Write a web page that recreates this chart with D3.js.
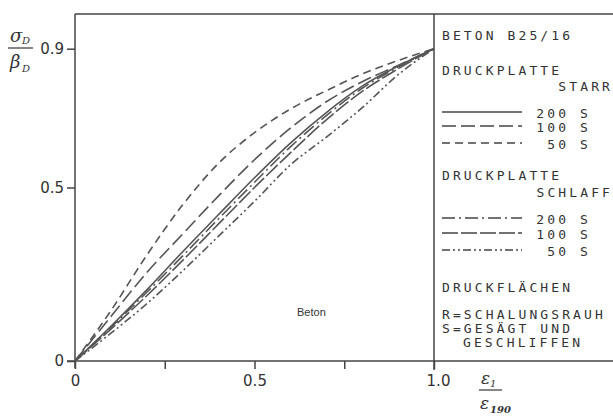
<!DOCTYPE html>
<html>
<head>
<meta charset="utf-8">
<script src="https://cdn.jsdelivr.net/npm/d3@7"></script>
<style>
  body { margin: 0; background: #fff; }
  text { fill: #333; }
</style>
</head>
<body>
<script>
// strain ratio eps1/eps190
const xs = [0, 0.1, 0.2, 0.3, 0.4, 0.5, 0.6, 0.7, 0.8, 0.9, 1.0];
// stress ratio sigmaD/betaD
const starr50  = [0, 0.145, 0.305, 0.45, 0.57, 0.658, 0.726, 0.779, 0.827, 0.866, 0.9];
const starr100 = [0, 0.128, 0.255, 0.366, 0.476, 0.58, 0.671, 0.747, 0.805, 0.852, 0.9];
const starr200 = [0, 0.1, 0.205, 0.315, 0.422, 0.528, 0.628, 0.716, 0.792, 0.85, 0.9];
const schlaff200 = [0, 0.097, 0.198, 0.303, 0.41, 0.515, 0.617, 0.707, 0.786, 0.847, 0.9];
const schlaff100 = [0, 0.092, 0.188, 0.29, 0.395, 0.5, 0.6, 0.695, 0.777, 0.842, 0.9];
const schlaff50  = [0, 0.08, 0.165, 0.26, 0.36, 0.46, 0.565, 0.645, 0.73, 0.825, 0.9];

const yTicks = [0, 0.5, 0.9];
const xTicks = [0, 0.25, 0.5, 0.75, 1.0];
const xLabels = {0: "0", 0.5: "0.5", 1.0: "1.0"};

const series = [
  {vals: starr200, dash: null, label: "200 S", ly: 112},
  {vals: starr100, dash: "14,5", label: "100 S", ly: 126},
  {vals: starr50, dash: "8,5", label: "50 S", ly: 143},
  {vals: schlaff200, dash: "13,4,2,4", label: "200 S", ly: 218},
  {vals: schlaff100, dash: "16,3", label: "100 S", ly: 233},
  {vals: schlaff50, dash: "8,3,2,3,2,3", label: "50 S", ly: 250}
];

const svg = d3.select("body").append("svg")
  .attr("width", 613)
  .attr("height", 417)
  .style("font-family", "'DejaVu Sans Mono', monospace");

const x = d3.scaleLinear().domain([0, 1]).range([75, 434]);
const y = d3.scaleLinear().domain([0, 1]).range([361, 14]);

const ink = "#444";

// frame
svg.append("line").attr("x1", 75).attr("y1", 14).attr("x2", 613).attr("y2", 14)
  .attr("stroke", ink).attr("stroke-width", 1.5);
svg.append("line").attr("x1", 75).attr("y1", 14).attr("x2", 75).attr("y2", 368)
  .attr("stroke", ink).attr("stroke-width", 1.5);
svg.append("line").attr("x1", 434).attr("y1", 14).attr("x2", 434).attr("y2", 370)
  .attr("stroke", ink).attr("stroke-width", 1.5);

// axes
const yAxis = svg.append("g").attr("transform", "translate(75,0)")
  .call(d3.axisLeft(y).tickValues(yTicks).tickSize(8).tickPadding(3)
    .tickFormat(d => d === 0 ? "0" : d3.format(".1f")(d)));
yAxis.select(".domain").remove();
yAxis.selectAll("line").attr("stroke", ink).attr("stroke-width", 1.5);
yAxis.selectAll("text").attr("font-size", 15).attr("fill", "#333")
  .style("font-family", "'DejaVu Sans', sans-serif");

const xAxis = svg.append("g").attr("transform", "translate(0,361)")
  .call(d3.axisBottom(x).tickValues(xTicks).tickSize(8).tickPadding(6)
    .tickFormat(d => xLabels[d] || ""));
xAxis.select(".domain").remove();
xAxis.selectAll("line").attr("stroke", ink).attr("stroke-width", 1.5);
xAxis.selectAll("text").attr("font-size", 15).attr("fill", "#333")
  .style("font-family", "'DejaVu Sans', sans-serif");
xAxis.selectAll(".tick").filter(d => d === 1).select("text").attr("dx", 4);

svg.append("line").attr("x1", 67).attr("y1", 361).attr("x2", 613).attr("y2", 361)
  .attr("stroke", ink).attr("stroke-width", 1.5);

// curves
const line = d3.line()
  .x((d, i) => x(xs[i]))
  .y(d => y(d))
  .curve(d3.curveMonotoneX);

series.forEach(s => {
  svg.append("path")
    .attr("d", line(s.vals))
    .attr("fill", "none")
    .attr("stroke", "#555")
    .attr("stroke-width", 1.6)
    .attr("stroke-dasharray", s.dash);
});

svg.append("text").attr("x", 297).attr("y", 316)
  .attr("font-size", 11).style("font-family", "'Liberation Sans', sans-serif")
  .text("Beton");

// legend
const leg = svg.append("g").attr("font-size", 13).style("letter-spacing", "3.1px");
function lt(txt, tx, ty, anchor) {
  leg.append("text").attr("x", tx).attr("y", ty)
    .attr("text-anchor", anchor || "start").text(txt);
}
lt("BETON B25/16", 442, 40);
lt("DRUCKPLATTE", 442, 75);
lt("STARR", 613, 91, "end");
lt("DRUCKPLATTE", 442, 180);
lt("SCHLAFF", 613, 197, "end");
lt("DRUCKFLÄCHEN", 442, 292);
lt("R=SCHALUNGSRAUH", 442, 319);
lt("S=GESÄGT UND", 442, 333);
lt("GESCHLIFFEN", 463, 347);

series.forEach(s => {
  svg.append("line")
    .attr("x1", 442).attr("x2", 522)
    .attr("y1", s.ly).attr("y2", s.ly)
    .attr("stroke", "#444").attr("stroke-width", 1.4)
    .attr("stroke-dasharray", s.dash);
  lt(s.label, 591, s.ly + 6, "end");
});

// axis titles as fractions
const ft = svg.append("g").style("font-family", "'DejaVu Serif', serif").attr("font-style", "italic");
ft.append("text").attr("x", 10).attr("y", 42).attr("font-size", 18).text("σ");
ft.append("text").attr("x", 22).attr("y", 44).attr("font-size", 10).text("D");
ft.append("line").attr("x1", 8).attr("x2", 33).attr("y1", 48).attr("y2", 48)
  .attr("stroke", ink).attr("stroke-width", 1.3);
ft.append("text").attr("x", 10).attr("y", 68).attr("font-size", 18).text("β");
ft.append("text").attr("x", 22).attr("y", 72).attr("font-size", 10).text("D");

ft.append("text").attr("x", 481).attr("y", 384).attr("font-size", 17).text("ε");
ft.append("text").attr("x", 490).attr("y", 387).attr("font-size", 10).text("1");
ft.append("line").attr("x1", 479).attr("x2", 502).attr("y1", 390).attr("y2", 390)
  .attr("stroke", ink).attr("stroke-width", 1.3);
ft.append("text").attr("x", 480).attr("y", 409).attr("font-size", 17).text("ε");
ft.append("text").attr("x", 490).attr("y", 413).attr("font-size", 10)
  .attr("font-weight", "bold").text("190");
</script>
</body>
</html>
